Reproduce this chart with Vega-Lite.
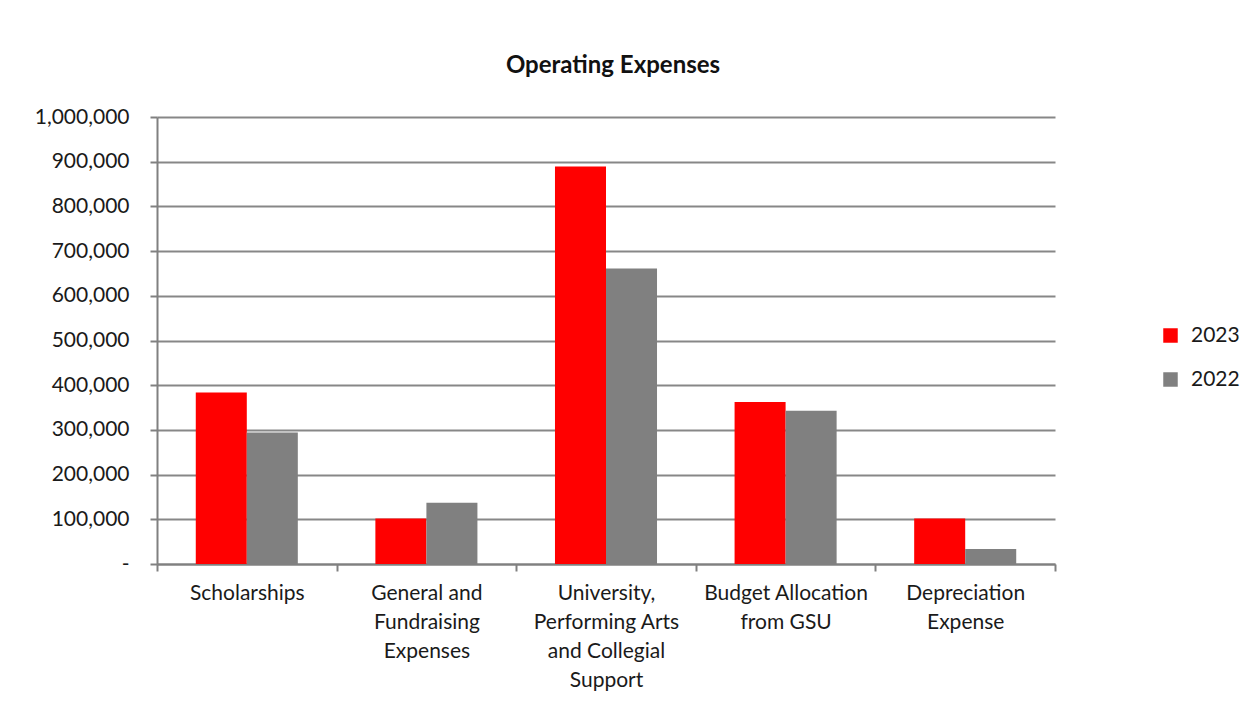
{
  "$schema": "https://vega.github.io/schema/vega-lite/v6.json",
  "width": 898,
  "height": 447,
  "autosize": {"type": "none"},
  "padding": {"left": 157, "top": 117, "right": 205, "bottom": 140},
  "background": "white",
  "title": {
    "text": "Operating Expenses",
    "font": "Lato",
    "fontSize": 24,
    "fontWeight": "bold",
    "color": "#111",
    "anchor": "middle",
    "frame": "group",
    "offset": 28,
    "dx": 7
  },
  "data": {
    "values": [
      {"category": "Scholarships", "year": "2023", "amount": 383400},
      {"category": "Scholarships", "year": "2022", "amount": 294400},
      {"category": "General and Fundraising Expenses", "year": "2023", "amount": 101800},
      {"category": "General and Fundraising Expenses", "year": "2022", "amount": 137100},
      {"category": "University, Performing Arts and Collegial Support", "year": "2023", "amount": 889000},
      {"category": "University, Performing Arts and Collegial Support", "year": "2022", "amount": 661300},
      {"category": "Budget Allocation from GSU", "year": "2023", "amount": 362500},
      {"category": "Budget Allocation from GSU", "year": "2022", "amount": 343000},
      {"category": "Depreciation Expense", "year": "2023", "amount": 101800},
      {"category": "Depreciation Expense", "year": "2022", "amount": 33700}
    ]
  },
  "mark": {"type": "bar"},
  "encoding": {
    "x": {
      "field": "category",
      "type": "nominal",
      "sort": null,
      "scale": {"paddingInner": 0, "paddingOuter": 0},
      "axis": {
        "title": null,
        "labelAngle": 0,
        "bandPosition": 0,
        "tickBand": "extent",
        "labelFont": "Lato",
        "labelFontSize": 21,
        "labelColor": "#1a1a1a",
        "labelLineHeight": 29,
        "labelPadding": 11,
        "labelBaseline": "top",
        "tickSize": 7,
        "tickColor": "#808080",
        "tickWidth": 2,
        "domainColor": "#808080",
        "domainWidth": 2,
        "grid": false,
        "labelExpr": "datum.value == 'General and Fundraising Expenses' ? ['General and','Fundraising','Expenses'] : datum.value == 'University, Performing Arts and Collegial Support' ? ['University,','Performing Arts','and Collegial','Support'] : datum.value == 'Budget Allocation from GSU' ? ['Budget Allocation','from GSU'] : datum.value == 'Depreciation Expense' ? ['Depreciation','Expense'] : datum.value"
      }
    },
    "xOffset": {
      "field": "year",
      "type": "nominal",
      "sort": ["2023", "2022"],
      "scale": {"paddingInner": 0, "paddingOuter": 0.76}
    },
    "y": {
      "field": "amount",
      "type": "quantitative",
      "scale": {"domain": [0, 1000000], "nice": false},
      "axis": {
        "title": null,
        "values": [0, 100000, 200000, 300000, 400000, 500000, 600000, 700000, 800000, 900000, 1000000],
        "labelExpr": "datum.value == 0 ? '-\u2007' : format(datum.value, ',')",
        "labelFont": "Lato",
        "labelFontSize": 21,
        "labelColor": "#1a1a1a",
        "labelPadding": 21,
        "tickSize": 7,
        "tickColor": "#808080",
        "tickWidth": 2,
        "domainColor": "#808080",
        "domainWidth": 2,
        "grid": true,
        "gridColor": "#878787",
        "gridWidth": 2
      }
    },
    "color": {
      "field": "year",
      "type": "nominal",
      "sort": ["2023", "2022"],
      "scale": {"domain": ["2023", "2022"], "range": ["#ff0000", "#808080"]},
      "legend": {
        "title": null,
        "orient": "none",
        "legendX": 1003,
        "legendY": 208,
        "symbolType": "square",
        "symbolSize": 210,
        "symbolStrokeWidth": 0,
        "labelFont": "Lato",
        "labelFontSize": 21,
        "labelColor": "#1a1a1a",
        "labelOffset": 10,
        "rowPadding": 22
      }
    }
  },
  "config": {
    "view": {"stroke": null}
  }
}
